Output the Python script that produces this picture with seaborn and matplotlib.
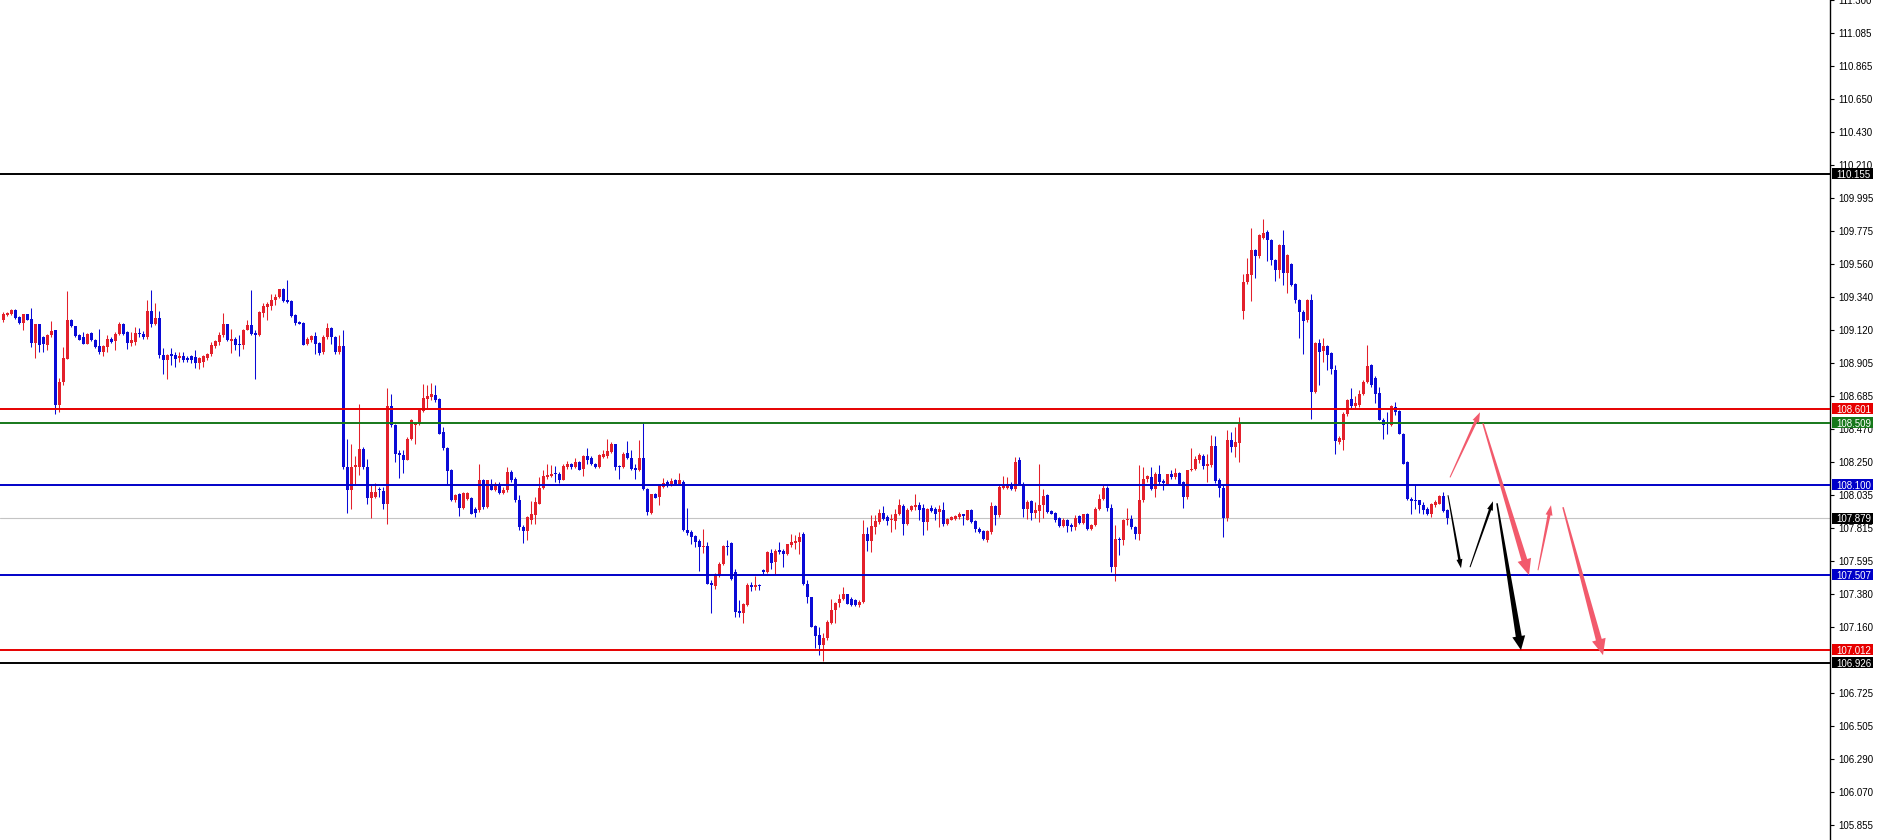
#!/usr/bin/env python3
"""
Candlestick chart with support / resistance levels and projected moves
"""
import numpy as np
import matplotlib
matplotlib.use('Agg')  # Non-interactive backend
import matplotlib.pyplot as plt
from matplotlib.patches import Polygon, Rectangle
import seaborn as sns

# candle data, one entry per bar (oldest first)
opens = [
    109.186, 109.219, 109.226, 109.256, 109.208, 109.168, 109.226, 109.197, 109.036, 109.160,  # 0
    109.076, 109.021, 109.087, 109.120, 108.625, 108.779, 108.933, 109.190, 109.146, 109.087,  # 10
    109.076, 109.032, 109.102, 109.058, 109.014, 108.977, 109.010, 109.065, 109.050, 109.094,  # 20
    109.164, 109.109, 109.036, 109.043, 109.102, 109.098, 109.076, 109.248, 109.164, 109.204,  # 30
    108.955, 108.926, 108.962, 108.955, 108.940, 108.948, 108.940, 108.948, 108.944, 108.904,  # 40
    108.911, 108.940, 108.962, 109.014, 109.043, 109.087, 109.160, 109.050, 109.065, 109.032,  # 50
    109.021, 109.124, 109.153, 109.102, 109.087, 109.234, 109.274, 109.278, 109.322, 109.340,  # 60
    109.395, 109.322, 109.314, 109.219, 109.175, 109.168, 109.028, 109.058, 109.080, 109.036,  # 70
    108.977, 109.076, 109.138, 109.076, 108.977, 109.014, 108.218, 108.064, 108.218, 108.218,  # 80
    108.339, 108.218, 108.016, 108.020, 108.075, 108.060, 107.976, 108.618, 108.493, 108.310,  # 90
    108.295, 108.266, 108.405, 108.493, 108.504, 108.588, 108.669, 108.680, 108.691, 108.669,  # 100
    108.449, 108.346, 108.200, 107.998, 108.038, 107.950, 108.009, 108.016, 107.943, 107.932,  # 110
    108.130, 107.954, 108.108, 108.064, 108.108, 108.046, 108.064, 108.185, 108.141, 107.998,  # 120
    107.822, 107.796, 107.870, 107.899, 107.976, 108.082, 108.152, 108.156, 108.174, 108.174,  # 130
    108.134, 108.218, 108.236, 108.218, 108.251, 108.207, 108.288, 108.280, 108.240, 108.218,  # 140
    108.284, 108.288, 108.317, 108.368, 108.222, 108.218, 108.310, 108.280, 108.214, 108.200,  # 150
    108.280, 108.075, 107.914, 108.038, 108.020, 108.086, 108.119, 108.104, 108.130, 108.104,  # 160
    108.119, 107.804, 107.789, 107.760, 107.730, 107.690, 107.694, 107.452, 107.433, 107.503,  # 170
    107.576, 107.694, 107.716, 107.525, 107.268, 107.250, 107.305, 107.437, 107.426, 107.437,  # 180
    107.536, 107.525, 107.650, 107.591, 107.668, 107.664, 107.642, 107.701, 107.716, 107.723,  # 190
    107.778, 107.448, 107.356, 107.166, 107.107, 107.041, 107.085, 107.188, 107.276, 107.320,  # 200
    107.349, 107.378, 107.349, 107.342, 107.305, 107.327, 107.774, 107.730, 107.822, 107.855,  # 210
    107.914, 107.888, 107.866, 107.862, 107.910, 107.958, 107.840, 107.936, 107.954, 107.965,  # 220
    107.950, 107.855, 107.950, 107.943, 107.921, 107.936, 107.840, 107.870, 107.877, 107.888,  # 230
    107.906, 107.870, 107.932, 107.862, 107.811, 107.796, 107.738, 107.789, 107.958, 107.899,  # 240
    108.082, 108.082, 108.104, 108.075, 108.262, 108.108, 107.943, 107.994, 107.914, 107.928,  # 250
    107.965, 108.031, 107.928, 107.914, 107.884, 107.826, 107.870, 107.833, 107.822, 107.892,  # 260
    107.848, 107.910, 107.811, 107.833, 107.943, 108.009, 108.082, 107.950, 107.558, 107.745,  # 270
    107.734, 107.866, 107.877, 107.818, 107.774, 107.998, 108.141, 108.152, 108.075, 108.170,  # 280
    108.126, 108.108, 108.174, 108.152, 108.178, 108.119, 108.020, 108.196, 108.207, 108.262,  # 290
    108.288, 108.222, 108.229, 108.354, 108.134, 108.082, 107.884, 108.394, 108.350, 108.376,  # 300
    109.248, 109.439, 109.483, 109.652, 109.608, 109.732, 109.769, 109.718, 109.586, 109.516,  # 310
    109.681, 109.498, 109.560, 109.428, 109.322, 109.241, 109.186, 109.322, 108.713, 109.036,  # 320
    108.984, 109.014, 108.970, 108.860, 108.383, 108.394, 108.566, 108.669, 108.618, 108.625,  # 330
    108.698, 108.779, 108.889, 108.808, 108.706, 108.530, 108.515, 108.493, 108.614, 108.588,  # 340
    108.438, 108.251, 108.009, 108.002, 107.998, 107.965, 107.943, 107.910, 107.965, 107.976,  # 350
    108.024, 107.932,                                                                          # 360
]
highs = [
    109.241, 109.241, 109.263, 109.263, 109.212, 109.230, 109.230, 109.270, 109.164, 109.164,
    109.080, 109.094, 109.182, 109.124, 108.808, 109.010, 109.380, 109.194, 109.150, 109.098,
    109.109, 109.102, 109.109, 109.065, 109.131, 109.021, 109.087, 109.076, 109.109, 109.175,
    109.168, 109.116, 109.109, 109.142, 109.138, 109.116, 109.322, 109.384, 109.300, 109.248,
    109.006, 108.966, 109.006, 108.977, 108.977, 108.977, 108.948, 108.955, 108.988, 108.944,
    108.955, 108.970, 109.043, 109.054, 109.109, 109.234, 109.164, 109.131, 109.076, 109.087,
    109.131, 109.190, 109.384, 109.120, 109.248, 109.300, 109.307, 109.362, 109.362, 109.395,
    109.402, 109.450, 109.318, 109.226, 109.182, 109.175, 109.076, 109.087, 109.109, 109.043,
    109.087, 109.168, 109.142, 109.080, 109.087, 109.124, 108.405, 108.372, 108.288, 108.636,
    108.350, 108.273, 108.108, 108.112, 108.086, 108.086, 108.742, 108.702, 108.504, 108.328,
    108.328, 108.416, 108.537, 108.515, 108.603, 108.768, 108.757, 108.772, 108.757, 108.676,
    108.482, 108.350, 108.207, 108.042, 108.046, 108.053, 108.053, 108.020, 107.954, 108.240,
    108.141, 108.134, 108.141, 108.119, 108.119, 108.086, 108.218, 108.196, 108.152, 108.031,
    107.833, 107.892, 107.994, 108.020, 108.152, 108.196, 108.236, 108.229, 108.222, 108.185,
    108.236, 108.258, 108.244, 108.280, 108.258, 108.295, 108.346, 108.288, 108.244, 108.306,
    108.328, 108.405, 108.383, 108.372, 108.229, 108.317, 108.390, 108.328, 108.236, 108.394,
    108.515, 108.082, 108.042, 108.046, 108.108, 108.148, 108.130, 108.148, 108.141, 108.178,
    108.130, 107.950, 107.800, 107.767, 107.745, 107.811, 107.723, 107.470, 107.518, 107.591,
    107.701, 107.738, 107.723, 107.547, 107.338, 107.320, 107.452, 107.459, 107.496, 107.448,
    107.547, 107.664, 107.679, 107.679, 107.723, 107.679, 107.712, 107.778, 107.767, 107.789,
    107.789, 107.470, 107.360, 107.173, 107.162, 107.118, 107.210, 107.349, 107.327, 107.382,
    107.426, 107.382, 107.356, 107.349, 107.338, 107.866, 107.822, 107.899, 107.899, 107.943,
    107.958, 107.899, 107.910, 107.943, 108.009, 107.972, 107.950, 107.965, 108.038, 107.987,
    107.976, 107.950, 107.965, 107.954, 107.965, 107.987, 107.884, 107.892, 107.899, 107.921,
    107.910, 107.936, 107.943, 107.866, 107.818, 107.800, 107.800, 107.987, 107.965, 108.097,
    108.156, 108.152, 108.119, 108.284, 108.284, 108.119, 107.998, 108.002, 107.987, 108.240,
    108.075, 108.038, 107.936, 107.921, 107.888, 107.884, 107.877, 107.848, 107.899, 107.899,
    107.910, 107.914, 107.844, 107.954, 108.042, 108.097, 108.090, 107.976, 107.833, 107.756,
    107.877, 107.950, 107.899, 107.826, 108.229, 108.218, 108.163, 108.218, 108.185, 108.229,
    108.141, 108.174, 108.200, 108.214, 108.185, 108.126, 108.200, 108.346, 108.288, 108.310,
    108.302, 108.306, 108.427, 108.420, 108.148, 108.097, 108.460, 108.449, 108.482, 108.548,
    109.490, 109.600, 109.798, 109.659, 109.758, 109.857, 109.780, 109.725, 109.593, 109.692,
    109.780, 109.622, 109.564, 109.432, 109.329, 109.252, 109.329, 109.362, 109.043, 109.065,
    109.072, 109.021, 108.977, 108.889, 108.420, 108.581, 108.669, 108.742, 108.684, 108.724,
    108.794, 109.021, 108.900, 108.816, 108.746, 108.544, 108.581, 108.625, 108.647, 108.592,
    108.442, 108.258, 108.020, 108.097, 108.002, 107.987, 107.954, 107.980, 108.002, 108.031,
    108.053, 107.940,
]
lows = [
    109.175, 109.212, 109.219, 109.197, 109.164, 109.124, 109.186, 109.010, 108.940, 108.977,
    108.977, 108.988, 109.076, 108.566, 108.581, 108.757, 108.933, 109.142, 109.076, 109.054,
    109.028, 109.028, 109.050, 109.006, 108.966, 108.948, 108.977, 109.036, 108.988, 109.087,
    109.087, 108.999, 109.014, 109.021, 109.076, 109.065, 109.065, 109.142, 109.153, 108.940,
    108.834, 108.801, 108.889, 108.878, 108.911, 108.911, 108.911, 108.904, 108.874, 108.867,
    108.878, 108.922, 108.948, 109.006, 109.021, 109.076, 109.050, 108.970, 108.988, 108.948,
    108.999, 109.120, 109.087, 108.801, 109.080, 109.208, 109.186, 109.252, 109.285, 109.336,
    109.307, 109.300, 109.208, 109.153, 109.160, 109.021, 109.021, 109.043, 108.962, 108.955,
    108.966, 109.065, 109.032, 108.966, 108.966, 108.207, 107.914, 107.943, 108.097, 108.163,
    108.207, 107.976, 107.884, 108.015, 108.020, 107.943, 107.840, 108.482, 108.251, 108.148,
    108.178, 108.262, 108.394, 108.372, 108.493, 108.581, 108.610, 108.658, 108.647, 108.434,
    108.328, 108.108, 107.994, 107.987, 107.892, 107.943, 107.998, 107.906, 107.888, 107.921,
    107.943, 107.950, 108.064, 108.060, 108.042, 108.042, 108.053, 108.119, 107.987, 107.800,
    107.716, 107.734, 107.844, 107.840, 107.972, 108.075, 108.141, 108.152, 108.119, 108.112,
    108.130, 108.207, 108.207, 108.214, 108.200, 108.156, 108.240, 108.229, 108.214, 108.214,
    108.280, 108.280, 108.310, 108.196, 108.141, 108.214, 108.273, 108.196, 108.141, 108.192,
    108.068, 107.899, 107.910, 108.016, 107.965, 108.082, 108.086, 108.090, 108.097, 108.097,
    107.796, 107.767, 107.712, 107.690, 107.532, 107.650, 107.444, 107.250, 107.415, 107.492,
    107.569, 107.635, 107.474, 107.228, 107.228, 107.188, 107.298, 107.400, 107.408, 107.408,
    107.514, 107.519, 107.547, 107.514, 107.646, 107.558, 107.635, 107.690, 107.679, 107.646,
    107.437, 107.320, 107.158, 107.019, 106.975, 106.938, 107.074, 107.180, 107.188, 107.290,
    107.338, 107.312, 107.298, 107.298, 107.294, 107.320, 107.664, 107.657, 107.778, 107.844,
    107.866, 107.833, 107.789, 107.811, 107.899, 107.767, 107.833, 107.928, 107.932, 107.866,
    107.767, 107.800, 107.921, 107.866, 107.818, 107.826, 107.833, 107.866, 107.870, 107.877,
    107.833, 107.866, 107.848, 107.789, 107.782, 107.738, 107.723, 107.778, 107.833, 107.888,
    108.075, 108.075, 108.064, 108.060, 108.108, 107.888, 107.877, 107.866, 107.884, 107.855,
    107.884, 107.914, 107.906, 107.855, 107.818, 107.818, 107.789, 107.796, 107.804, 107.844,
    107.840, 107.804, 107.800, 107.826, 107.932, 107.998, 107.928, 107.525, 107.466, 107.635,
    107.701, 107.833, 107.811, 107.745, 107.734, 107.987, 108.119, 108.064, 108.020, 108.108,
    108.064, 108.097, 108.141, 108.141, 108.097, 107.950, 108.009, 108.192, 108.196, 108.244,
    108.207, 108.119, 108.218, 108.112, 108.020, 107.756, 107.862, 108.317, 108.284, 108.251,
    109.197, 109.428, 109.314, 109.468, 109.600, 109.725, 109.578, 109.549, 109.446, 109.468,
    109.417, 109.366, 109.410, 109.300, 109.072, 108.962, 109.175, 108.537, 108.706, 108.757,
    108.911, 108.856, 108.830, 108.302, 108.372, 108.328, 108.552, 108.610, 108.603, 108.614,
    108.691, 108.772, 108.746, 108.640, 108.526, 108.405, 108.438, 108.486, 108.559, 108.434,
    108.236, 108.002, 107.910, 107.943, 107.914, 107.910, 107.899, 107.888, 107.954, 107.972,
    107.921, 107.840,
]
closes = [
    109.230, 109.234, 109.256, 109.204, 109.168, 109.226, 109.190, 109.036, 109.160, 109.021,
    109.028, 109.087, 109.116, 108.625, 108.779, 108.940, 109.190, 109.146, 109.080, 109.058,
    109.032, 109.094, 109.054, 109.010, 108.977, 109.014, 109.065, 109.043, 109.094, 109.164,
    109.094, 109.036, 109.058, 109.102, 109.094, 109.076, 109.248, 109.164, 109.204, 108.955,
    108.926, 108.955, 108.948, 108.933, 108.948, 108.922, 108.922, 108.922, 108.904, 108.940,
    108.948, 108.962, 109.021, 109.050, 109.087, 109.160, 109.054, 109.065, 109.021, 109.021,
    109.124, 109.153, 109.098, 109.087, 109.241, 109.278, 109.296, 109.322, 109.340, 109.395,
    109.314, 109.307, 109.212, 109.168, 109.164, 109.021, 109.065, 109.080, 109.028, 108.970,
    109.076, 109.138, 109.076, 108.977, 109.014, 108.218, 108.068, 108.218, 108.229, 108.339,
    108.218, 108.016, 108.053, 108.053, 108.064, 107.976, 108.618, 108.493, 108.306, 108.295,
    108.266, 108.405, 108.526, 108.504, 108.592, 108.676, 108.684, 108.698, 108.662, 108.438,
    108.346, 108.192, 107.998, 108.031, 107.950, 108.046, 108.046, 107.910, 107.914, 108.130,
    107.954, 108.130, 108.068, 108.104, 108.046, 108.068, 108.185, 108.130, 107.998, 107.818,
    107.796, 107.888, 107.906, 107.987, 108.082, 108.156, 108.163, 108.174, 108.170, 108.134,
    108.222, 108.236, 108.218, 108.251, 108.200, 108.288, 108.266, 108.236, 108.218, 108.295,
    108.302, 108.324, 108.368, 108.218, 108.218, 108.306, 108.280, 108.207, 108.200, 108.280,
    108.075, 107.921, 108.038, 108.016, 108.097, 108.112, 108.097, 108.126, 108.108, 108.130,
    107.804, 107.782, 107.756, 107.723, 107.686, 107.694, 107.448, 107.437, 107.503, 107.580,
    107.694, 107.690, 107.481, 107.261, 107.250, 107.312, 107.437, 107.426, 107.437, 107.430,
    107.525, 107.657, 107.584, 107.664, 107.657, 107.646, 107.708, 107.723, 107.730, 107.752,
    107.448, 107.360, 107.162, 107.100, 107.041, 107.085, 107.195, 107.276, 107.320, 107.349,
    107.378, 107.316, 107.305, 107.305, 107.327, 107.774, 107.730, 107.826, 107.862, 107.914,
    107.877, 107.862, 107.877, 107.910, 107.965, 107.840, 107.936, 107.958, 107.965, 107.936,
    107.855, 107.943, 107.928, 107.910, 107.943, 107.840, 107.877, 107.888, 107.892, 107.910,
    107.892, 107.932, 107.855, 107.811, 107.789, 107.745, 107.796, 107.958, 107.899, 108.086,
    108.090, 108.104, 108.075, 108.251, 108.108, 107.943, 107.987, 107.914, 107.932, 107.965,
    108.024, 107.921, 107.910, 107.870, 107.826, 107.870, 107.826, 107.822, 107.884, 107.848,
    107.906, 107.811, 107.833, 107.943, 108.009, 108.082, 107.950, 107.558, 107.745, 107.734,
    107.866, 107.877, 107.822, 107.774, 107.998, 108.141, 108.156, 108.075, 108.174, 108.119,
    108.112, 108.170, 108.152, 108.178, 108.104, 108.020, 108.196, 108.207, 108.273, 108.295,
    108.222, 108.236, 108.354, 108.126, 108.082, 107.884, 108.394, 108.350, 108.383, 108.504,
    109.439, 109.490, 109.652, 109.608, 109.747, 109.762, 109.718, 109.586, 109.516, 109.681,
    109.498, 109.615, 109.417, 109.322, 109.241, 109.182, 109.322, 108.713, 109.036, 108.977,
    109.014, 108.955, 108.867, 108.390, 108.412, 108.566, 108.662, 108.618, 108.640, 108.698,
    108.779, 108.882, 108.757, 108.702, 108.530, 108.493, 108.504, 108.618, 108.581, 108.438,
    108.240, 108.009, 107.994, 107.994, 107.965, 107.932, 107.910, 107.976, 107.987, 108.024,
    107.928, 107.879,
]

# horizontal levels drawn across the chart
level_prices = [110.155, 108.601, 108.509, 108.100, 107.507, 107.012, 106.926]
level_colors = ['#000000', '#e60000', '#16781a', '#0000c8', '#0000c8', '#e60000', '#000000']
current_price = 107.879

# price scale labels
tick_values = [111.300, 111.085, 110.865, 110.650, 110.430, 110.210, 109.995, 109.775,
               109.560, 109.340, 109.120, 108.905, 108.685, 108.470, 108.250, 108.035,
               107.815, 107.595, 107.380, 107.160, 106.725, 106.505, 106.290, 106.070,
               105.855]

# projected moves: bar position / price of start and end
arrow_x0 = [361.25, 366.75, 373.5, 361.75, 370.0, 383.75, 390.0]
arrow_y0 = [108.031, 107.556, 107.978, 108.149, 108.506, 107.536, 107.952]
arrow_x1 = [364.5, 372.5, 379.5, 369.25, 381.5, 387.0, 400.0]
arrow_y1 = [107.549, 107.991, 107.008, 108.579, 107.503, 107.965, 106.975]
arrow_colors = ['black', 'black', 'black', '#f25a6c', '#f25a6c', '#f25a6c', '#f25a6c']
# (start width, shaft end width, head width, head length) in pixels
arrow_sizes = [(1, 2.5, 6, 9), (1, 2.5, 6, 9), (1.5, 6, 13, 14),
               (1, 3, 7, 10), (1.5, 6, 14, 16), (1, 3, 7, 10), (1.5, 6, 14, 16)]

UP = '#e3202b'
DOWN = '#0a0ad6'


def tapered_arrow(ax, x0, y0, x1, y1, color, sizes):
    """Arrow thin at its tail and wide near its head, built in pixel space"""
    w0, w1, hw, hl = sizes
    p0 = ax.transData.transform((x0, y0))
    p1 = ax.transData.transform((x1, y1))
    d = p1 - p0
    d = d / np.hypot(*d)
    n = np.array([-d[1], d[0]])
    pb = p1 - d * hl
    pts = [p0 + n * w0 / 2, pb + n * w1 / 2, pb + n * hw / 2, p1,
           pb - n * hw / 2, pb - n * w1 / 2, p0 - n * w0 / 2]
    pts = ax.transData.inverted().transform(np.array(pts))
    ax.add_patch(Polygon(pts, closed=True, facecolor=color, edgecolor='none',
                         zorder=6))


def main():
    sns.set_style('white')
    plt.rcParams['font.family'] = ['Liberation Sans', 'DejaVu Sans']

    W, H, DPI = 1877, 840, 100
    fig = plt.figure(figsize=(W / DPI, H / DPI), dpi=DPI)
    axis_px = 1830
    ax = fig.add_axes([0, 0, axis_px / W, 1])

    x_left, bar_px = -0.75, 4.0
    ax.set_xlim(x_left, x_left + axis_px / bar_px)
    ax.set_ylim(105.754, 111.302)

    o = np.array(opens)
    h = np.array(highs)
    l = np.array(lows)
    c = np.array(closes)
    idx = np.arange(len(c))
    up = c >= o
    col = np.where(up, UP, DOWN)

    # wicks and bodies
    ax.vlines(idx, l, h, colors=col, linewidth=0.75, zorder=3)
    body_lo = np.minimum(o, c)
    body_h = np.maximum(np.abs(c - o), 0.006)
    ax.bar(idx, body_h, bottom=body_lo, width=0.75, color=col,
           linewidth=0, zorder=4)

    # levels
    ax.axhline(current_price, color='#c4c4c4', linewidth=0.8, zorder=2)
    for price, color in zip(level_prices, level_colors):
        ax.axhline(price, color=color, linewidth=1.4, zorder=5)

    # projected path
    for x0, y0, x1, y1, color, sizes in zip(arrow_x0, arrow_y0, arrow_x1, arrow_y1,
                                            arrow_colors, arrow_sizes):
        tapered_arrow(ax, x0, y0, x1, y1, color, sizes)

    # right price scale
    for side in ['top', 'left', 'bottom']:
        ax.spines[side].set_visible(False)
    ax.spines['right'].set_color('black')
    ax.spines['right'].set_linewidth(1.0)
    ax.set_xticks([])
    ax.yaxis.tick_right()
    ax.set_yticks(tick_values)
    ax.set_yticklabels([f'{v:.3f}' for v in tick_values])
    ax.tick_params(axis='y', direction='out', length=3, width=0.8, pad=3,
                   labelsize=7, colors='black')

    # boxed labels for the levels
    trans = ax.get_yaxis_transform()
    box_x0 = 1832 / axis_px
    box_w = 41 / axis_px
    box_h = 11 / 151.5
    marks = list(zip(level_prices, level_colors)) + [(current_price, '#000000')]
    for price, color in marks:
        ax.add_patch(Rectangle((box_x0, price - box_h / 2), box_w, box_h,
                               transform=trans, facecolor=color, edgecolor='none',
                               clip_on=False, zorder=7))
        ax.text(box_x0 + 4 / axis_px, price, f'{price:.3f}', transform=trans,
                color='white', fontsize=7, ha='left', va='center_baseline',
                clip_on=False, zorder=8)

    fig.savefig('out.png', dpi=DPI, facecolor='white')
    plt.close(fig)


if __name__ == '__main__':
    main()
